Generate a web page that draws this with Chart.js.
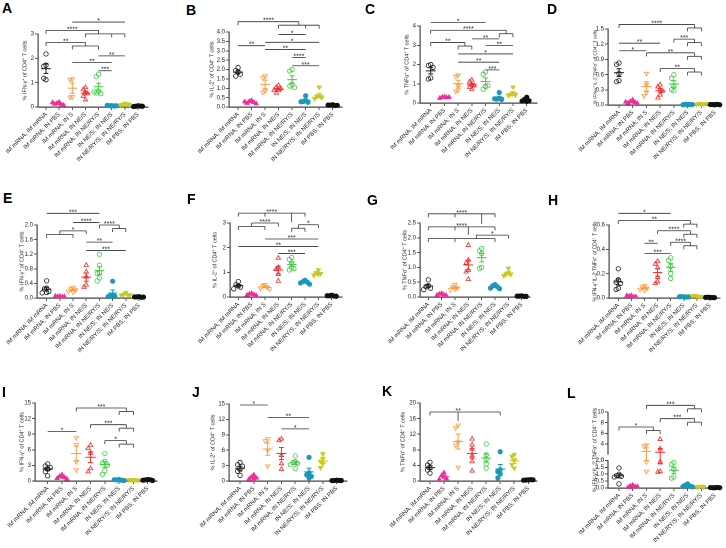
<!DOCTYPE html>
<html>
<head>
<meta charset="utf-8">
<script src="https://cdn.jsdelivr.net/npm/chart.js@4.4.1/dist/chart.umd.min.js"></script>
<style>
  body { margin: 0; background: #fff; width: 726px; height: 548px; position: relative; overflow: hidden; }
  canvas { position: absolute; }
  .lt { position: absolute; font: bold 14px "Liberation Sans", Arial, sans-serif; line-height: 1; color: #000; }
</style>
</head>
<body>
<script>
const FONT = '"Liberation Sans", Arial, sans-serif';

const groups = ['IM mRNA; IM mRNA', 'IM mRNA; IN PBS', 'IM mRNA; IN S', 'IM mRNA; IN NE/S',
  'IM mRNA; IN NE/RY/S', 'IN NE/S; IN NE/S', 'IN NE/RY/S; IN NE/RY/S', 'IM PBS; IN PBS'];
const COLORS = ['#1a1a1a', '#f0309a', '#ff9a3c', '#f52a2a', '#3ccc3c', '#1b98bb', '#c9c920', '#111111'];
const markers = ['circle', 'triangle', 'triangle', 'triangle', 'circle', 'circle', 'triangle', 'circle'];
const turns = [0, 0, 180, 0, 0, 0, 180, 0];
const filled = [false, true, false, false, false, true, true, true];

const tIfn = '% IFN-\u03b3\u207a of CD4\u207a T cells';
const tIl2 = '% IL-2\u207a of CD4\u207a T cells';
const tTnf = '% TNF\u03b1\u207a of CD4\u207a T cells';
const tTri = '% IFN-\u03b3\u207aIL-2\u207aTNF\u03b1\u207a of CD4\u207a T cells';

// values per group, panel by panel
const ifnA = [[2.18, 1.72, 1.68, 1.12, 1.18], [0.2, 0.15, 0.1, 0.12, 0.08, 0.18], [1.15, 1.12, 0.42, 0.4],
  [0.8, 0.72, 0.6, 0.45, 0.3, 0.55], [1.35, 1.25, 0.65, 0.58, 0.55, 0.62], [0.06, 0.05, 0.04, 0.07, 0.05],
  [0.15, 0.1, 0.12, 0.08, 0.1], [0.05, 0.03, 0.04, 0.02, 0.03]];
const il2B = [[2.1, 1.95, 1.85, 1.75, 1.65], [0.35, 0.3, 0.25, 0.2, 0.18, 0.28], [1.65, 1.55, 0.85, 0.78],
  [1.15, 1.05, 0.98, 0.88, 0.75, 0.9], [2.0, 1.92, 1.2, 1.12, 1.05], [0.6, 0.35, 0.3, 0.25, 0.28],
  [1.05, 0.6, 0.55, 0.5, 0.45], [0.12, 0.1, 0.08, 0.1, 0.09]];
const tnfC = [[2.0, 1.95, 1.85, 1.3, 1.25], [0.32, 0.3, 0.28, 0.25, 0.3], [1.45, 1.38, 0.92, 0.68, 0.6],
  [1.2, 1.1, 0.95, 0.82, 0.72, 0.9], [1.62, 1.5, 0.85, 0.72, 0.9], [0.55, 0.25, 0.2, 0.18, 0.22],
  [0.82, 0.48, 0.45, 0.42, 0.4], [0.3, 0.18, 0.12, 0.1, 0.08]];
const triD = [[0.83, 0.8, 0.62, 0.48, 0.46], [0.1, 0.07, 0.05, 0.04, 0.03, 0.06], [0.62, 0.4, 0.25, 0.18],
  [0.4, 0.36, 0.3, 0.28, 0.2, 0.14], [0.6, 0.53, 0.37, 0.3, 0.28], [0.01, 0.015, 0.01, 0.005, 0.01],
  [0.02, 0.03, 0.02, 0.015, 0.025], [0.01, 0.008, 0.012, 0.01, 0.005]];
const ifnE = [[0.47, 0.27, 0.25, 0.18, 0.15, 0.14], [0.05, 0.04, 0.03, 0.05, 0.04], [0.29, 0.25, 0.22, 0.18, 0.16],
  [0.9, 0.72, 0.58, 0.36, 0.3], [1.2, 0.9, 0.7, 0.67, 0.55, 0.47], [0.46, 0.08, 0.06, 0.05, 0.04],
  [0.15, 0.1, 0.08, 0.07, 0.09], [0.04, 0.03, 0.02, 0.03, 0.025]];
const il2F = [[0.63, 0.5, 0.45, 0.4, 0.33], [0.15, 0.12, 0.1, 0.08, 0.06], [0.5, 0.45, 0.4, 0.36, 0.33],
  [1.58, 1.2, 1.12, 0.92, 0.65], [1.6, 1.52, 1.38, 1.18, 1.1, 1.15], [0.68, 0.62, 0.6, 0.57, 0.52],
  [1.1, 0.98, 0.95, 0.92, 0.88], [0.07, 0.05, 0.04, 0.05, 0.03]];
const tnfG = [[0.58, 0.38, 0.35, 0.3, 0.25], [0.12, 0.1, 0.08, 0.06, 0.05], [0.42, 0.36, 0.3, 0.27, 0.24],
  [1.75, 1.25, 1.15, 0.9, 0.6, 0.85], [1.64, 1.56, 1.47, 1.0, 0.97], [0.42, 0.38, 0.35, 0.3, 0.28],
  [0.97, 0.82, 0.78, 0.76, 0.72], [0.04, 0.03, 0.02, 0.03, 0.02]];
const triH = [[0.24, 0.15, 0.13, 0.12, 0.08, 0.07], [0.02, 0.015, 0.01, 0.02, 0.01], [0.1, 0.09, 0.08, 0.07, 0.065],
  [0.3, 0.28, 0.25, 0.17, 0.135, 0.12], [0.33, 0.31, 0.26, 0.2, 0.16], [0.01, 0.012, 0.008, 0.01, 0.009],
  [0.015, 0.02, 0.01, 0.018, 0.012], [0.005, 0.006, 0.004, 0.005, 0.003]];
const ifnI = [[3.3, 2.9, 2.6, 2.3, 1.8, 1.0], [1.2, 0.9, 0.7, 0.5, 0.4], [8.3, 7.0, 3.7, 2.1],
  [6.9, 6.3, 5.4, 2.4, 1.8], [5.3, 3.8, 3.5, 3.1, 2.0, 1.3], [0.3, 0.2, 0.15, 0.25, 0.1],
  [0.25, 0.2, 0.15, 0.2, 0.18], [0.3, 0.2, 0.25, 0.15, 0.1]];
const il2J = [[3.6, 3.2, 2.9, 2.2, 1.9, 1.1], [1.2, 0.8, 0.6, 0.4, 0.3], [8.2, 7.8, 6.0, 2.9],
  [8.2, 7.9, 5.0, 3.4, 2.3], [4.9, 3.8, 3.6, 3.4, 3.2, 2.4], [4.6, 1.6, 1.2, 0.9, 0.6],
  [5.3, 4.4, 3.8, 3.4, 2.6], [0.15, 0.1, 0.12, 0.08, 0.1]];
const tnfK = [[4.8, 4.1, 3.4, 2.8, 2.0], [2.1, 1.4, 1.0, 0.6, 0.35], [14.3, 13.6, 10.0, 9.2, 3.5],
  [10.8, 9.3, 8.2, 5.0, 2.6, 6.5], [9.5, 6.7, 5.6, 4.4, 3.3], [7.5, 2.9, 2.4, 1.8, 0.8],
  [6.8, 6.3, 5.2, 4.2, 3.3], [0.3, 0.25, 0.35, 0.2, 0.3]];
const triL = [[1.45, 1.0, 0.9, 0.85, 0.8, 0.3], [0.2, 0.15, 0.1, 0.05, 0.1], [3.8, 3.6, 1.9, 1.2],
  [4.9, 3.1, 1.9, 1.2, 1.15], [1.85, 1.7, 1.35, 0.8, 0.72], [0.3, 0.2, 0.15, 0.1, 0.08],
  [0.12, 0.1, 0.08, 0.1], [0.03, 0.02, 0.04, 0.03, 0.02]];

// y ticks
const tkA = [0, 1, 2, 3];
const tkB = [0, 0.5, 1, 1.5, 2, 2.5, 3, 3.5, 4];
const tkC = [0, 1, 2, 3, 4];
const tkD = [0, 0.3, 0.6, 0.9, 1.2, 1.5];
const tkE = [0, 0.4, 0.8, 1.2, 1.6, 2.0];
const tkF = [0, 1, 2, 3];
const tkG = [0, 0.5, 1, 1.5, 2, 2.5];
const tkH = [0, 0.2, 0.4, 0.6];
const tkI = [0, 3, 6, 9, 12, 15];
const tkJ = [0, 3, 6, 9, 12, 15];
const tkK = [0, 4, 8, 12, 16, 20];
const tkLlow = [0, 0.5, 1, 1.5, 2];
const tkLhigh = [2, 4, 6, 8, 10];

// significance: [y, label, left group(s), right group(s), opts]
const sigA = [[3.49, '*', 2, 6, {flat: 1}], [3.15, '****', 0, [3, 5, 6], {cb: 4}], [2.65, '**', 0, [2, 4]],
  [2.1, '**', 4, 6, {flat: 1}], [1.83, '**', 2, 5, {flat: 1}], [1.49, '***', 4, 5, {flat: 1}]];
const sigB = [[4.55, '****', 0, [3, 5, 6]], [3.87, '*', 3, 5, {flat: 1}], [3.45, '*', 2, 6, {flat: 1}],
  [3.27, '**', 0, 2, {flat: 1}], [3.07, '**', 2, 5, {flat: 1}], [2.64, '****', 4, 5, {flat: 1}],
  [2.2, '***', 4, 6, {flat: 1}]];
const sigC = [[4.19, '*', 0, 4, {flat: 1}], [3.78, '****', 0, [5, 6]], [3.33, '**', 3, 5, {flat: 1}],
  [3.14, '**', 0, [2, 3]], [2.98, '**', 4, 6, {flat: 1}], [2.55, '*', 2, 6, {flat: 1}],
  [2.12, '**', 2, 5, {flat: 1}], [1.72, '***', 4, 5, {flat: 1}]];
const sigD = [[1.59, '****', 0, [5, 6]], [1.30, '***', 4, [5, 6]], [1.22, '**', 0, 3, {flat: 1}],
  [1.07, '*', 0, 2, {flat: 1}], [1.03, '**', 2, [5, 6]], [0.72, '**', 3, [5, 6]]];
const sigE = [[2.32, '***', 0, 4, {flat: 1}], [2.07, '****', 2, 4, {flat: 1}], [2.0, '****', 4, [5, 6]],
  [1.84, '*', [0, 2], 3], [1.53, '**', 3, 5, {flat: 1}], [1.3, '***', 3, 6, {flat: 1}]];
const sigF = [[3.4, '****', 0, 5, {xt: [2], m: [4, 9]}], [3.0, '****', [0, 2], 3], [2.93, '*', [4, 5], 6],
  [2.35, '***', 2, 6, {flat: 1}], [2.05, '**', 0, 6, {flat: 1}], [1.76, '***', 3, 5, {flat: 1}]];
const sigG = [[2.81, '****', 0, 5, {xt: [2], m: [4, 10]}], [2.37, '****', 0, 5, {xt: [2], m: [3, 8]}],
  [2.09, '*', [0, 2, 5], 6, {ca: 3.6}]];
const sigH = [[0.696, '*', 0, 4, {flat: 1}], [0.636, '**', 0, [5, 6]], [0.553, '****', 3, [5, 6]],
  [0.458, '****', 4, [5, 6]], [0.45, '**', 2, 3, {flat: 1}], [0.367, '***', 2, 4, {flat: 1}]];
const sigI = [[14.04, '***', 2, [5, 6]], [10.83, '***', 3, [5, 6]], [9.55, '*', 0, 2, {flat: 1}],
  [7.76, '*', 4, [5, 6]]];
const sigJ = [[14.8, '*', 0, 2, {flat: 1}], [12.4, '**', 2, 5, {flat: 1}], [10.15, '*', 3, 5, {flat: 1}]];
const sigK = [[17.7, '**', 0, 5, {m: [2, 9], lx: 2}]];
const sigL = [[11.25, '***', 2, [5, 6]], [8.75, '***', 3, [5, 6]], [7.19, '*', 0, [2, 3]]];

// broken axis of panel L
const GAP = 0.41, K = 0.386;
const brk = v => v <= 2 ? v : 2 + GAP + (v - 2) * K;
const unbrk = v => v <= 2 ? v : 2 + (v - 2 - GAP) / K;

const panels = [
  {id: 'A', vals: ifnA, ticks: tkA, dp: 0, title: tIfn, ts: 5.5, sig: sigA, cell: [0, 0, 182], box: [25, 38, 34, 148, 107], xr: [-0.61, 7.76], lt: [2, 3]},
  {id: 'B', vals: il2B, ticks: tkB, dp: 1, title: tIl2, ts: 5.5, sig: sigB, cell: [180, 0, 182], box: [212, 229, 32, 342, 107], xr: [-0.67, 7.69], lt: [186, 5]},
  {id: 'C', vals: tnfC, ticks: tkC, dp: 0, title: tTnf, ts: 5.5, sig: sigC, cell: [360, 0, 182], box: [407, 420, 26, 537, 103], xr: [-0.78, 7.75], lt: [365, 4]},
  {id: 'D', vals: triD, ticks: tkD, dp: 1, title: tTri, ts: 4.6, sig: sigD, cell: [540, 0, 182], box: [595, 608, 29, 720, 105], xr: [-0.8, 7.36], lt: [547, 4]},
  {id: 'E', vals: ifnE, ticks: tkE, dp: 1, title: tIfn, ts: 5.5, sig: sigE, cell: [0, 180, 186], box: [22, 37, 225, 143, 298], xr: [-0.73, 7.3], lt: [3, 193]},
  {id: 'F', vals: il2F, ticks: tkF, dp: 0, title: tIl2, ts: 5.5, sig: sigF, cell: [180, 180, 186], box: [215, 230, 223, 342, 297], xr: [-0.62, 7.77], lt: [187, 194]},
  {id: 'G', vals: tnfG, ticks: tkG, dp: 1, title: tTnf, ts: 5.5, sig: sigG, cell: [360, 180, 186], box: [405, 420, 223, 530, 297], xr: [-0.62, 7.62], lt: [367, 195]},
  {id: 'H', vals: triH, ticks: tkH, dp: 1, title: tTri, ts: 5, sig: sigH, cell: [540, 180, 186], box: [595, 609, 225, 720, 298], xr: [-0.71, 7.76], lt: [548, 195]},
  {id: 'I', vals: ifnI, ticks: tkI, dp: 0, title: tIfn, ts: 5.5, sig: sigI, cell: [0, 365, 183], box: [22, 35, 403, 157, 481], xr: [-0.89, 7.65], lt: [2, 387]},
  {id: 'J', vals: il2J, ticks: tkJ, dp: 0, title: tIl2, ts: 5.5, sig: sigJ, cell: [180, 365, 183], box: [213, 229, 404, 347, 481], xr: [-0.8, 7.75], lt: [192, 387]},
  {id: 'K', vals: tnfK, ticks: tkK, dp: 0, title: tTnf, ts: 5.5, sig: sigK, cell: [360, 365, 183], box: [403, 420, 403, 537, 481], xr: [-0.71, 7.62], lt: [382, 386]},
  {id: 'L', vals: triL, ticks: tkLlow.concat(tkLhigh.map(brk)), dp: 1, title: tTri, ts: 5.3, sig: sigL, cell: [540, 365, 183], box: [595, 608, 412, 720, 488], xr: [-0.8, 7.36], lt: [567, 388], map: brk}
];

// horizontal spread of points that would overlap (small beeswarm)
function spread(ys, thr) {
  const offs = [];
  const seq = [0, -1, 1, -2, 2, -3, 3, -4, 4];
  ys.forEach((v, j) => {
    const used = [];
    for (let k = 0; k < j; k++) if (Math.abs(ys[k] - v) < thr) used.push(offs[k]);
    offs.push(seq.find(q => !used.includes(q)));
  });
  return offs;
}

function makeExtras(p) {
  return {
    id: 'extras' + p.id,
    afterDatasetsDraw(chart) {
      const ctx = chart.ctx, sx = chart.scales.x, sy = chart.scales.y;
      const f = p.map || (v => v);
      const X = v => sx.getPixelForValue(v);
      const Y = v => sy.getPixelForValue(f(v));
      const step = X(1) - X(0);
      const seg = (x1, y1, x2, y2) => { ctx.beginPath(); ctx.moveTo(x1, y1); ctx.lineTo(x2, y2); ctx.stroke(); };
      ctx.save();
      // mean and SEM
      ctx.lineWidth = 1;
      p.vals.forEach((arr, i) => {
        const n = arr.length;
        const m = arr.reduce((a, b) => a + b, 0) / n;
        const sd = Math.sqrt(arr.reduce((a, b) => a + (b - m) * (b - m), 0) / (n - 1));
        const se = sd / Math.sqrt(n);
        const cx = X(i);
        ctx.strokeStyle = COLORS[i];
        seg(cx - step * 0.36, Y(m), cx + step * 0.36, Y(m));
        seg(cx, Y(m - se), cx, Y(m + se));
        seg(cx - step * 0.18, Y(m + se), cx + step * 0.18, Y(m + se));
        seg(cx - step * 0.18, Y(m - se), cx + step * 0.18, Y(m - se));
      });
      // brackets
      ctx.strokeStyle = '#333';
      ctx.fillStyle = '#222';
      ctx.lineWidth = 0.8;
      ctx.font = '7px ' + FONT;
      ctx.textAlign = 'center';
      ctx.textBaseline = 'alphabetic';
      const g = 3.5;
      p.sig.forEach(([v, t, a, b, o = {}]) => {
        const y0 = Y(v);
        const end = (s, c) => {
          if (Array.isArray(s)) {
            const lo = Math.min(...s), hi = Math.max(...s);
            const xc = X(c != null ? c : (lo + hi) / 2);
            seg(xc, y0, xc, y0 + g);
            seg(X(lo), y0 + g, X(hi), y0 + g);
            s.forEach(k => seg(X(k), y0 + g, X(k), y0 + 2 * g));
            return xc;
          }
          if (!o.flat) seg(X(s), y0, X(s), y0 + g);
          return X(s);
        };
        const x1 = end(a, o.ca), x2 = end(b, o.cb);
        seg(x1, y0, x2, y0);
        (o.xt || []).forEach(k => seg(X(k), y0, X(k), y0 + g));
        if (o.m) seg(X(o.m[0]), y0, X(o.m[0]), y0 + o.m[1]);
        const lx = o.lx != null ? X(o.lx) : (x1 + x2) / 2;
        ctx.fillText(t, lx, y0 + 1);
      });
      // broken y axis
      if (p.map) {
        ctx.strokeStyle = '#444';
        ctx.lineWidth = 1.2;
        const ax = chart.chartArea.left;
        seg(ax, sy.getPixelForValue(0) + 0.6, ax, sy.getPixelForValue(2));
        seg(ax, sy.getPixelForValue(2 + GAP), ax, sy.getPixelForValue(brk(10)));
      }
      ctx.restore();
    }
  };
}

panels.forEach(p => {
  const [cx, cy, h] = p.cell;
  const w = 186;
  const [titleX, left, top, right, bottom] = p.box;
  const f = p.map || (v => v);
  const scaleLeft = titleX - p.ts * 0.6;
  const top0 = p.map ? brk(10) : p.ticks[p.ticks.length - 1];
  const thr = top0 * 4.2 / (bottom - top);

  const lt = document.createElement('div');
  lt.className = 'lt';
  lt.textContent = p.id;
  lt.style.left = p.lt[0] + 'px';
  lt.style.top = (p.lt[1] - 2) + 'px';
  document.body.appendChild(lt);

  const cv = document.createElement('canvas');
  cv.width = w; cv.height = h;
  cv.style.left = cx + 'px'; cv.style.top = cy + 'px';
  cv.style.width = w + 'px'; cv.style.height = h + 'px';
  document.body.appendChild(cv);

  const datasets = p.vals.map((arr, i) => {
    const ys = arr.map(f);
    const offs = spread(ys, thr);
    return {
      data: ys.map((y, j) => ({x: i + offs[j] * 0.17, y})),
      pointStyle: markers[i],
      pointRotation: turns[i],
      pointRadius: markers[i] === 'triangle' ? 2.5 : 2.2,
      pointBorderWidth: 0.8,
      pointBorderColor: COLORS[i],
      pointBackgroundColor: filled[i] ? COLORS[i] : 'rgba(0,0,0,0)',
      clip: false
    };
  });

  new Chart(cv, {
    type: 'scatter',
    data: {datasets},
    plugins: [makeExtras(p)],
    options: {
      responsive: false,
      animation: false,
      devicePixelRatio: 2,
      events: [],
      layout: {padding: {left: scaleLeft - cx, top: top - cy, right: cx + w - right, bottom: 0}},
      plugins: {legend: {display: false}, tooltip: {enabled: false}},
      scales: {
        x: {
          type: 'linear',
          min: p.xr[0],
          max: p.xr[1],
          afterBuildTicks: s => { s.ticks = groups.map((_, i) => ({value: i})); },
          afterFit: s => { s.height = cy + h - bottom; s.paddingLeft = 0; s.paddingRight = 0; },
          ticks: {
            callback: (v, i) => groups[i],
            minRotation: 45, maxRotation: 45, autoSkip: false,
            font: {family: FONT, size: 6}, color: '#222', padding: 1
          },
          grid: {drawOnChartArea: false, drawTicks: true, tickLength: 3, color: '#444', lineWidth: 0.9},
          border: {display: true, color: '#444', width: 1.2}
        },
        y: {
          type: 'linear',
          min: 0,
          max: top0,
          afterBuildTicks: s => { s.ticks = p.ticks.map(v => ({value: v})); },
          afterFit: s => { s.width = left - scaleLeft; s.paddingTop = 0; s.paddingBottom = 0; },
          ticks: {
            callback: v => p.map
              ? (v <= 2.0001 ? v.toFixed(1) : String(Math.round(unbrk(v))))
              : v.toFixed(p.dp),
            font: {family: FONT, size: 6}, color: '#222', padding: 1, autoSkip: false
          },
          title: {display: true, text: p.title, font: {family: FONT, size: p.ts}, color: '#222', padding: 0},
          grid: {drawOnChartArea: false, drawTicks: true, tickLength: 3, color: '#444', lineWidth: 0.9},
          border: {display: !p.map, color: '#444', width: 1.2}
        }
      }
    }
  });
});
</script>
</body>
</html>
